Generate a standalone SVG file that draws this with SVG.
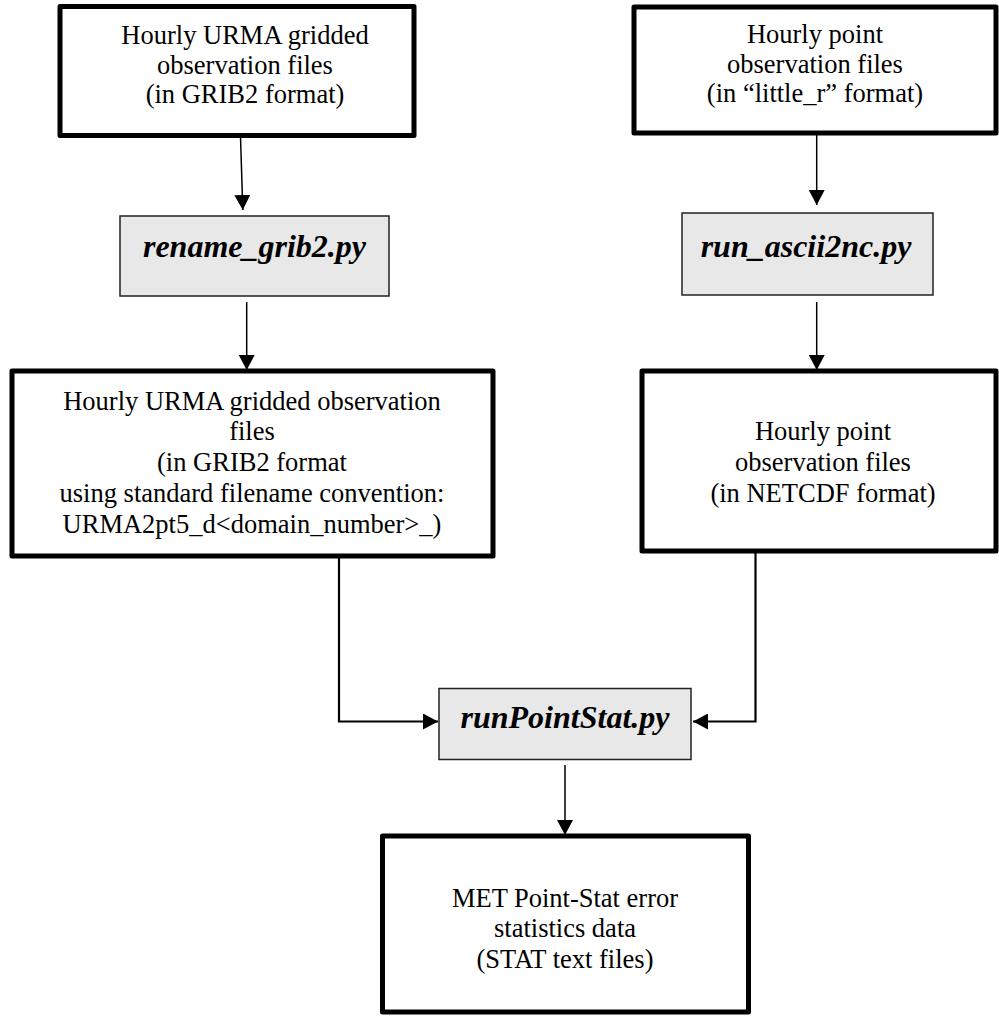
<svg xmlns="http://www.w3.org/2000/svg" width="999" height="1017" viewBox="0 0 999 1017">
<defs>
<marker id="ah" markerUnits="userSpaceOnUse" markerWidth="16" markerHeight="16" viewBox="0 0 16 16" refX="15" refY="8" orient="auto">
<path d="M0,0 L15,8 L0,16 z" fill="#000"/>
</marker>
<style>
.data{fill:#fff;stroke:#000;stroke-width:5;stroke-linejoin:round}
.proc{fill:#e8e8e8;stroke:#222;stroke-width:1.5}
.t{font-family:"Liberation Serif","Times New Roman",serif;font-size:26.5px;fill:#000;text-anchor:middle}
.p{font-family:"Liberation Serif","Times New Roman",serif;font-size:32px;font-weight:bold;font-style:italic;fill:#000;text-anchor:middle}
.c{fill:none;stroke:#000;stroke-width:1.5}
.c2{fill:none;stroke:#000;stroke-width:2.2}
</style>
</defs>
<g id="connectors">
<path class="c" d="M240.5,137 L242.8,210" marker-end="url(#ah)"/>
<path class="c" d="M816.7,135 L816.7,205" marker-end="url(#ah)"/>
<path class="c" d="M246.7,302 L246.7,370" marker-end="url(#ah)"/>
<path class="c" d="M816.7,302 L816.7,370" marker-end="url(#ah)"/>
<path class="c2" d="M339,558 L339,721.5 L438,721.5" marker-end="url(#ah)"/>
<path class="c2" d="M755.5,551 L755.5,721.5 L693,721.5" marker-end="url(#ah)"/>
<path class="c" d="M565,765 L565,835" marker-end="url(#ah)"/>
</g>
<g id="node-urma-grib2">
<rect class="data" x="60" y="6.5" width="354" height="129"/>
<text class="t" x="245" y="44">Hourly URMA gridded</text>
<text class="t" x="245" y="73.5">observation files</text>
<text class="t" x="245" y="103">(in GRIB2 format)</text>
</g>
<g id="node-point-littler">
<rect class="data" x="634" y="7" width="362" height="126"/>
<text class="t" x="815" y="43">Hourly point</text>
<text class="t" x="815" y="73">observation files</text>
<text class="t" x="815" y="102">(in “little_r” format)</text>
</g>
<g id="node-rename-grib2">
<rect class="proc" x="120" y="216" width="269" height="80"/>
<text class="p" x="254.5" y="257">rename_grib2.py</text>
</g>
<g id="node-run-ascii2nc">
<rect class="proc" x="682" y="213" width="251" height="82"/>
<text class="p" x="806" y="257">run_ascii2nc.py</text>
</g>
<g id="node-urma-renamed">
<rect class="data" x="12" y="371" width="481" height="185"/>
<text class="t" x="252" y="410">Hourly URMA gridded observation</text>
<text class="t" x="252" y="440">files</text>
<text class="t" x="252" y="470.5">(in GRIB2 format</text>
<text class="t" x="252" y="501.5">using standard filename convention:</text>
<text class="t" x="252" y="532.5">URMA2pt5_d&lt;domain_number&gt;_)</text>
</g>
<g id="node-point-netcdf">
<rect class="data" x="642" y="371" width="354" height="180"/>
<text class="t" x="823" y="440">Hourly point</text>
<text class="t" x="823" y="470.5">observation files</text>
<text class="t" x="823" y="501.5">(in NETCDF format)</text>
</g>
<g id="node-runpointstat">
<rect class="proc" x="439" y="688.5" width="252" height="71"/>
<text class="p" x="565" y="728">runPointStat.py</text>
</g>
<g id="node-met-stat">
<rect class="data" x="382.5" y="836" width="366" height="176"/>
<text class="t" x="565" y="906.5">MET Point-Stat error</text>
<text class="t" x="565" y="937">statistics data</text>
<text class="t" x="565" y="968">(STAT text files)</text>
</g>
</svg>
